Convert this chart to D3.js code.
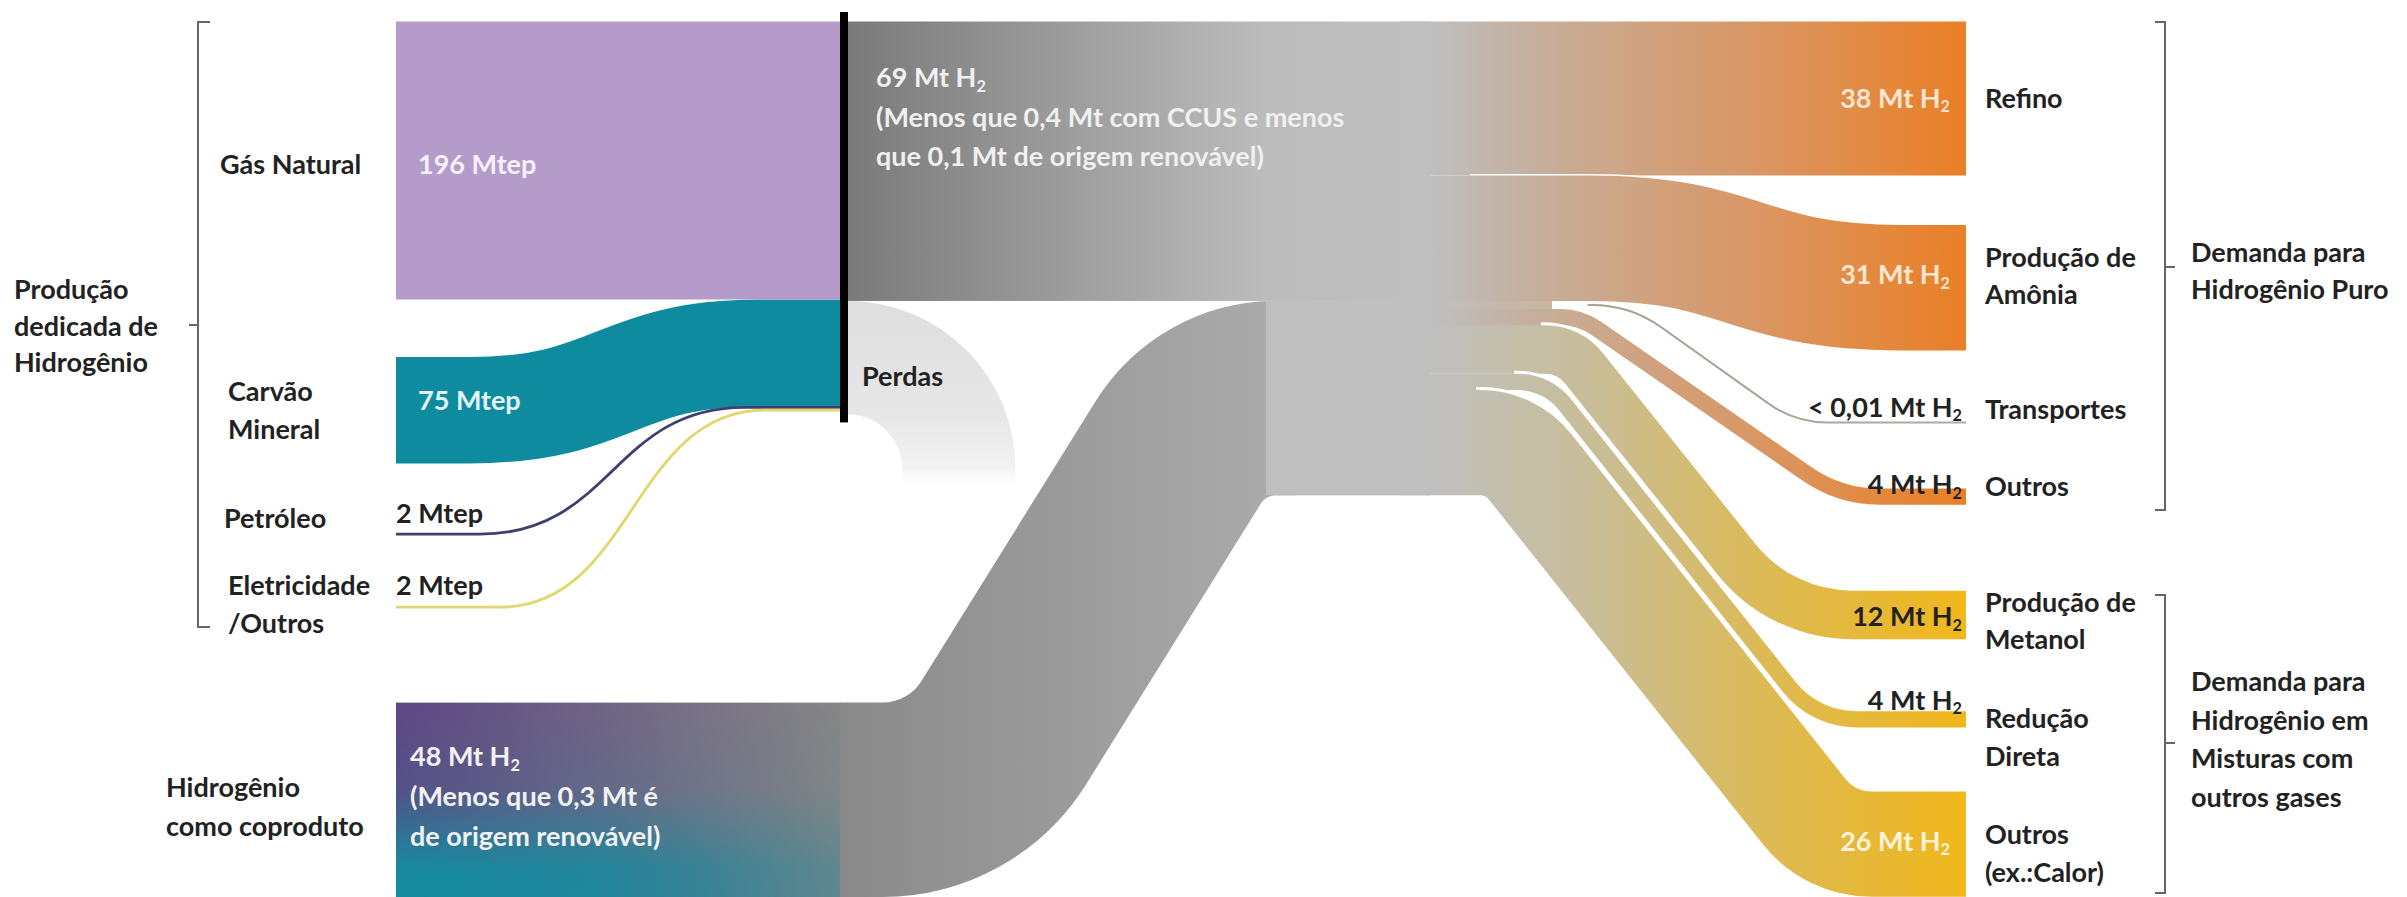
<!DOCTYPE html>
<html><head><meta charset="utf-8">
<script src="https://cdn.jsdelivr.net/npm/d3@7"></script>
<style>
body{margin:0;background:#fff;}
text{font-family:Lato,"Open Sans","DejaVu Sans",sans-serif;font-weight:700;}
</style>
</head><body>
<svg id="c" width="2407" height="897"></svg>
<script>
// ================= DATA =================
const sourceNames = ["Gás Natural", "Carvão Mineral", "Petróleo", "Eletricidade/Outros"];
const sourceMtep = [196, 75, 2, 2];
const sourceLabels = ["196 Mtep", "75 Mtep", "2 Mtep", "2 Mtep"];
const lossesMtep = 80;
const dedicatedH2 = 69;
const coproductH2 = 48;
const dedicatedText = ["69 Mt H₂", "(Menos que 0,4 Mt com CCUS e menos", "que 0,1 Mt de origem renovável)"];
const coproductText = ["48 Mt H₂", "(Menos que 0,3 Mt é", "de origem renovável)"];
const demandNames = [["Refino"], ["Produção de", "Amônia"], ["Transportes"], ["Outros"],
                     ["Produção de", "Metanol"], ["Redução", "Direta"], ["Outros", "(ex.:Calor)"]];
const demandH2 = [38, 31, 0.01, 4, 12, 4, 26];
const demandLabels = ["38 Mt H₂", "31 Mt H₂", "< 0,01 Mt H₂", "4 Mt H₂", "12 Mt H₂", "4 Mt H₂", "26 Mt H₂"];
const demandGroup = ["pure", "pure", "pure", "pure", "mix", "mix", "mix"];
const groupLabels = [["Demanda para", "Hidrogênio Puro"], ["Demanda para", "Hidrogênio em", "Misturas com", "outros gases"]];
const leftGroupLabel = ["Produção", "dedicada de", "Hidrogênio"];
const coproductName = ["Hidrogênio", "como coproduto"];
const lossesName = "Perdas";

// ================= LAYOUT / STYLE =================
const W = 2407, H = 897, TOP = 21.5;
const X_L0 = 396, X_L1 = 841;
const BAR = {x: 840, w: 8, over: 9.5};
const X_MID0 = 1266, X_MID1 = 1430, X_F0 = 1400, X_R = 1966;
const yE = d3.scaleLinear().domain([0, 196]).range([0, 278]);   // Mtep -> px
const yH = d3.scaleLinear().domain([0, 100]).range([0, 405]);   // Mt H2 -> px
const leftGap = [0, 57.5, 69.3, 70.2];
const leftBend = [null, [470, 760], [480, 745], [500, 765]];
const srcColor = ["#b49bca", "#0f8ba0", "#3e4170", "#e0d86e"];
const tgtGap = [0, 49.5, 72, 66, 86, 72, 64];
const srcPad = [0, 0, 4, 4];
const rightShape = [
  {type: "straight"},
  {type: "s", xa: 1590, xb: 1900, halo: 1470},
  {type: "bend", c1: 1630, c2: 1795, r1: 120, r2: 100},
  {type: "bend", c1: 1580, c2: 1840, r1: 63, r2: 127},
  {type: "bend", c1: 1569, c2: 1781, r1: 50, r2: 149},
  {type: "bend", c1: 1547, c2: 1815, r1: 60, r2: 87},
  {type: "bend", c1: 1511, c2: 1830, r1: 64, r2: 87}
];
const nameDy = [0, -12, -13, -10, 6, 18, 9];
const valDy = [0, -13, -15, -12, 2, -19, -3];
const valFill = ["#fbe6d2", "#fbe6d2", "#222", "#222", "#222", "#222", "#fff4d8"];
const FS = 27;

const svg = d3.select("#c");
const defs = svg.append("defs");
function grad(id, stops, x1, x2, y1 = 0, y2 = 0, units = "userSpaceOnUse") {
  const g = defs.append("linearGradient").attr("id", id).attr("gradientUnits", units)
    .attr("x1", x1).attr("x2", x2).attr("y1", y1).attr("y2", y2);
  stops.forEach(([o, c, op]) => g.append("stop").attr("offset", o).attr("stop-color", c).attr("stop-opacity", op == null ? 1 : op));
}
const span = (a, b, v) => (v - a) / (b - a);
grad("gGray69", [[0, "#7a7a7a"], [span(848, X_MID1, X_MID0), "#bcbcbc"], [1, "#bfbfbf"]], 848, X_MID1);
grad("gCoRect", [[0, "#5f4784"], [1, "#868686"]], X_L0, X_L1);
grad("gCoTeal", [[0, "#138da0", 0], [0.45, "#138da0", 0.15], [0.85, "#138da0", 0.95], [1, "#138da0", 1]], 0, 0, 0, 1, "objectBoundingBox");
grad("gCoMask", [[0, "#fff"], [0.45, "#ddd"], [1, "#555"]], 0, 1, 0, 0, "objectBoundingBox");
grad("gCoRib", [[0, "#8a8a8a"], [1, "#aaaaaa"]], X_L1, X_MID0);
grad("gOrange", [[0, "#bfbfbf"], [span(X_MID1, X_R, 1560), "#c8ab95"], [span(X_MID1, X_R, 1760), "#da9663"], [1, "#ea7f25"]], X_MID1, X_R);
grad("gYellow", [[0, "#bfbfbf"], [span(X_MID1, X_R, 1600), "#c9bd95"], [span(X_MID1, X_R, 1760), "#dcba57"], [1, "#f1b71b"]], X_MID1, X_R);
grad("gMixFill", [[0, "#bfbfbf"], [span(X_MID1, X_R, 1560), "#c8b598"], [1, "#ea7f25"]], X_MID1, X_R);
grad("gThin", [[0, "#bfbfbf"], [span(X_MID1, X_R, 1620), "#a89c8e"], [1, "#b3aba2"]], X_MID1, X_R);
const mask = defs.append("mask").attr("id", "mCo").attr("maskContentUnits", "objectBoundingBox");
mask.append("rect").attr("width", 1).attr("height", 1).attr("fill", "url(#gCoMask)");

function rounded(points, radii) {
  const p = d3.path();
  p.moveTo(points[0][0], points[0][1]);
  for (let i = 1; i < points.length - 1; i++)
    p.arcTo(points[i][0], points[i][1], points[i + 1][0], points[i + 1][1], radii[i - 1]);
  const last = points[points.length - 1];
  p.lineTo(last[0], last[1]);
  return p.toString();
}
function sCurve(x0, y0, xa, xb, y1, x1) {
  const p = d3.path(), m = (xa + xb) / 2;
  p.moveTo(x0, y0); p.lineTo(xa, y0);
  p.bezierCurveTo(m, y0, m, y1, xb, y1); p.lineTo(x1, y1);
  return p.toString();
}

// ================= LEFT: sources =================
let yl = TOP, yb = TOP;
const left = sourceMtep.map((v, i) => {
  yl += leftGap[i];
  const n = {y0: yl, h: yE(v), b0: yb};
  yl += n.h; yb += n.h;
  return n;
});
const gL = svg.append("g");
left.forEach((n, i) => {
  if (i === 0) return;
  const w = Math.max(n.h, 2.6);
  gL.append("path").attr("fill", "none").attr("stroke", srcColor[i]).attr("stroke-width", w)
    .attr("d", sCurve(X_L0, n.y0 + n.h / 2, leftBend[i][0], leftBend[i][1], n.b0 + n.h / 2, X_L1));
});
gL.append("rect").attr("x", X_L0).attr("y", left[0].y0).attr("width", X_L1 - X_L0).attr("height", left[0].h).attr("fill", srcColor[0]);

// ================= dedicated H2 block + losses =================
const xB = BAR.x + BAR.w;
const hDed = yH(dedicatedH2), hCo = yH(coproductH2);
svg.append("rect").attr("x", xB).attr("y", TOP).attr("width", X_MID1 - xB).attr("height", hDed).attr("fill", "url(#gGray69)");
const lossInner = 54, lossW = yE(lossesMtep);
const lossCy = TOP + hDed + lossInner + lossW;
const lossArc = d3.arc().innerRadius(lossInner).outerRadius(lossInner + lossW).startAngle(0).endAngle(Math.PI / 2);
defs.append("linearGradient").attr("id", "gLossL").attr("gradientUnits", "userSpaceOnUse")
  .attr("x1", 0).attr("x2", 0).attr("y1", -(lossInner + lossW)).attr("y2", 22)
  .selectAll("stop").data([[0, "#dedede", 1], [0.6, "#e7e7e7", 1], [0.88, "#f2f2f2", 1], [1, "#ffffff", 0]]).join("stop")
  .attr("offset", d => d[0]).attr("stop-color", d => d[1]).attr("stop-opacity", d => d[2]);
const lossG = svg.append("g").attr("transform", `translate(${xB},${lossCy})`);
lossG.append("path").attr("d", lossArc()).attr("fill", "url(#gLossL)");
lossG.append("rect").attr("x", lossInner).attr("y", -0.6).attr("width", lossW).attr("height", 22).attr("fill", "url(#gLossL)");

// ================= co-product =================
const coTop = H - hCo;
svg.append("rect").attr("x", X_L0).attr("y", coTop).attr("width", X_L1 - X_L0).attr("height", hCo).attr("fill", "url(#gCoRect)");
svg.append("rect").attr("x", X_L0).attr("y", coTop).attr("width", X_L1 - X_L0).attr("height", hCo).attr("fill", "url(#gCoTeal)").attr("mask", "url(#mCo)");
const coMidY = TOP + hDed + hCo / 2;
svg.append("path").attr("fill", "none").attr("stroke", "url(#gCoRib)").attr("stroke-width", hCo)
  .attr("d", rounded([[X_L1 - 1, coTop + hCo / 2], [962, coTop + hCo / 2], [1212, coMidY], [X_MID0 + 30, coMidY]], [143, 115]));
svg.append("rect").attr("x", X_MID0).attr("y", TOP + hDed).attr("width", X_MID1 - X_MID0).attr("height", hCo).attr("fill", "#bfbfbf");

// ================= RIGHT: demand flows =================
const midBottom = TOP + hDed + hCo;
const src = new Array(demandH2.length);
let ys = TOP;
demandH2.forEach((v, i) => { if (demandGroup[i] === "pure") { ys += srcPad[i]; src[i] = ys; ys += yH(v); } });
ys = midBottom;
for (let i = demandH2.length - 1; i >= 0; i--) if (demandGroup[i] === "mix") { ys -= yH(demandH2[i]); src[i] = ys; }
let yt = TOP;
const tgt = demandH2.map((v, i) => { yt += tgtGap[i]; const t = yt; yt += yH(v); return t; });

const gR = svg.append("g");
demandH2.forEach((v, i) => {
  const h = yH(v), w = Math.max(h, 2), sh = rightShape[i];
  const y0 = src[i] + h / 2, y1 = tgt[i] + h / 2;
  const col = h < 3 ? "url(#gThin)" : (demandGroup[i] === "pure" ? "url(#gOrange)" : "url(#gYellow)");
  let d, dh = null;
  if (sh.type === "straight") d = `M${X_F0},${y0}H${X_R}`;
  else if (sh.type === "s") { d = sCurve(X_F0, y0, sh.xa, sh.xb, y1, X_R); dh = sCurve(sh.halo, y0, sh.xa, sh.xb, y1, X_R); }
  else {
    const th = Math.atan2(Math.abs(y1 - y0), sh.c2 - sh.c1);
    const hs = sh.c1 - sh.r1 * Math.tan(th / 2) - 4;
    d = rounded([[h < 3 ? hs : X_F0, y0], [sh.c1, y0], [sh.c2, y1], [X_R, y1]], [sh.r1, sh.r2]);
    dh = rounded([[hs, y0], [sh.c1, y0], [sh.c2, y1], [X_R, y1]], [sh.r1, sh.r2]);
  }
  if (dh) gR.append("path").attr("d", dh).attr("fill", "none").attr("stroke", "#fff").attr("stroke-width", w + (h < 3 ? 4 : (sh.type === "s" ? 3 : 6)));
  if (i === 1) {
    // filler under the first flows below, so that stacking pads do not show as white gaps near the node
    const fTop = src[1] + h - 0.5, fBot = src[4] + 1;
    gR.append("rect").attr("x", X_F0).attr("y", fTop).attr("width", 152).attr("height", fBot - fTop).attr("fill", "url(#gMixFill)");
  }
  gR.append("path").attr("d", d).attr("fill", "none").attr("stroke", col).attr("stroke-width", w);
});

// ================= black bar =================
svg.append("rect").attr("x", BAR.x).attr("y", TOP - BAR.over).attr("width", BAR.w)
  .attr("height", Math.max(yb, TOP + hDed + lossW) - TOP + BAR.over + 8).attr("fill", "#000");

// ================= TEXT =================
function label(x, y, lines, o = {}) {
  const lh = o.lh || 37;
  const t = svg.append("text").attr("text-anchor", o.anchor || "start").attr("fill", o.fill || "#222")
    .style("font-size", (o.size || FS) + "px");
  lines.forEach((ln, i) => {
    const parts = ln.split("₂");
    t.append("tspan").attr("x", x).attr("y", y + i * lh).attr("dy", "0.35em").text(parts[0]);
    if (parts.length > 1) t.append("tspan").attr("dy", "0.28em").style("font-size", "0.6em").text("2");
  });
}
// left group
label(14, 290, leftGroupLabel, {lh: 36.5});
label(220, left[0].y0 + left[0].h / 2 + 4, [sourceNames[0]]);
label(228, 392, ["Carvão", "Mineral"], {lh: 38});
label(224, left[2].y0 + 2 - 16, [sourceNames[2]]);
label(228, left[3].y0 + 2 - 22, sourceNames[3].replace("/", "|/").split("|"), {lh: 38});
label(166, 788, coproductName, {lh: 39});
// values left
label(418, left[0].y0 + left[0].h / 2 + 4, [sourceLabels[0]], {fill: "#f6f0fb"});
label(418, left[1].y0 + left[1].h / 2 - 10, [sourceLabels[1]], {fill: "#e3f4f7"});
label(396, left[2].y0 + 1.4 - 21, [sourceLabels[2]]);
label(396, left[3].y0 + 1.4 - 22, [sourceLabels[3]]);
label(876, 78, dedicatedText, {fill: "#f0f0f0", lh: 39.5});
label(410, 757, coproductText, {fill: "#f2f2f2", lh: 40});
label(862, 377, [lossesName]);
// right
demandH2.forEach((v, i) => {
  const c = tgt[i] + yH(v) / 2;
  const nm = demandNames[i];
  label(1985, c + nameDy[i] - (nm.length - 1) * 18.5, nm, {lh: 37.5});
  label(valFill[i] === "#222" ? 1962 : 1950, c + valDy[i], [demandLabels[i]], {anchor: "end", fill: valFill[i]});
});
label(2191, 253, groupLabels[0], {lh: 37});
label(2191, 682, groupLabels[1], {lh: 38.5});

// brackets
const br = svg.append("g").attr("fill", "none").attr("stroke", "#666").attr("stroke-width", 2);
br.append("path").attr("d", "M210,22H198V627H210M198,325H189");
br.append("path").attr("d", "M2155,22H2165V510H2155M2165,267H2175");
br.append("path").attr("d", "M2155,595H2165V893H2155M2165,743H2175");
</script>
</body></html>
